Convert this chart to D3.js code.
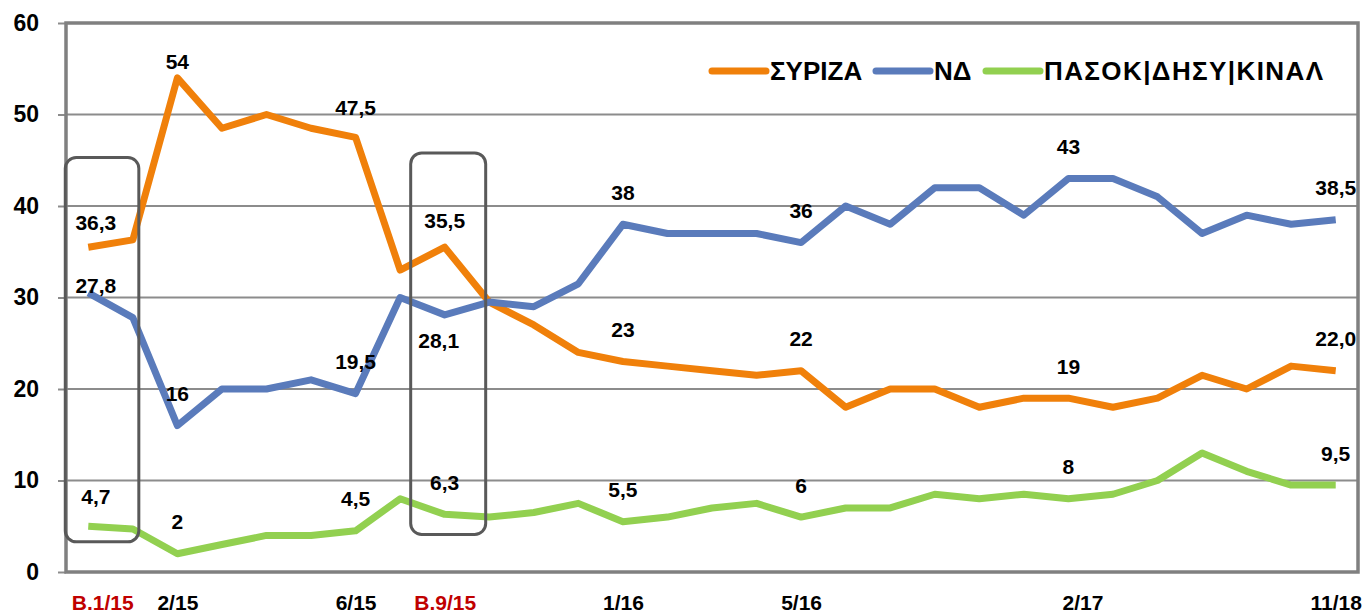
<!DOCTYPE html>
<html lang="el">
  <head>
    <meta charset="UTF-8" />
    <title>Δημοσκοπήσεις</title>
    <script src="https://d3js.org/d3.v7.min.js"></script>
    <style>
      body { margin: 0; background: #fff; }
      text { font-family: "Liberation Sans", Arial, sans-serif; font-weight: bold; }
    </style>
  </head>
  <body>
    <div id="chart"></div>
    <script>
      // Data
      const categories = ["B.1/15", "", "2/15", "", "", "", "6/15", "", "B.9/15", "", "", "",
        "1/16", "", "", "", "5/16", "", "", "", "", "", "2/17", "", "", "", "", "", "11/18"];
      const syriza = [35.5, 36.3, 54, 48.5, 50, 48.5, 47.5, 33, 35.5, 29.5, 27, 24, 23, 22.5, 22,
        21.5, 22, 18, 20, 20, 18, 19, 19, 18, 19, 21.5, 20, 22.5, 22];
      const nd = [30.5, 27.8, 16, 20, 20, 21, 19.5, 30, 28.1, 29.5, 29, 31.5, 38, 37, 37, 37, 36,
        40, 38, 42, 42, 39, 43, 43, 41, 37, 39, 38, 38.5];
      const pasok = [5, 4.7, 2, 3, 4, 4, 4.5, 8, 6.3, 6, 6.5, 7.5, 5.5, 6, 7, 7.5, 6, 7, 7, 8.5,
        8, 8.5, 8, 8.5, 10, 13, 11, 9.5, 9.5];
      const seriesNames = ["ΣΥΡΙΖΑ", "ΝΔ", "ΠΑΣΟΚ|ΔΗΣΥ|ΚΙΝΑΛ"];
      const labelIdx = [1, 2, 6, 8, 12, 16, 22, 28];
      const syrizaLabels = ["36,3", "54", "47,5", "35,5", "23", "22", "19", "22,0"];
      const ndLabels = ["27,8", "16", "19,5", "28,1", "38", "36", "43", "38,5"];
      const pasokLabels = ["4,7", "2", "4,5", "6,3", "5,5", "6", "8", "9,5"];
      const yTicks = [0, 10, 20, 30, 40, 50, 60];

      const W = 1368, H = 615;
      const margin = { top: 23, right: 10, bottom: 43, left: 66 };
      const colors = ["#F0800A", "#5A7BBB", "#92D050"];

      const svg = d3.select("#chart").append("svg")
        .attr("width", W).attr("height", H);

      const x = d3.scalePoint()
        .domain(d3.range(categories.length))
        .range([margin.left, W - margin.right])
        .padding(0.5);
      const y = d3.scaleLinear().domain([0, 60]).range([H - margin.bottom, margin.top]);

      // gridlines
      svg.append("g").selectAll("line")
        .data(yTicks.filter(d => d > 0 && d < 60))
        .join("line")
        .attr("x1", margin.left).attr("x2", W - margin.right)
        .attr("y1", d => y(d)).attr("y2", d => y(d))
        .attr("stroke", "#8c8c8c").attr("stroke-width", 2);

      // y axis
      const yAxis = svg.append("g")
        .attr("transform", "translate(" + margin.left + ",0)")
        .call(d3.axisLeft(y).tickValues(yTicks).tickSize(8).tickPadding(19));
      yAxis.select(".domain").remove();
      yAxis.selectAll("line").attr("stroke", "#8c8c8c").attr("stroke-width", 2);
      yAxis.selectAll("text").style("font-size", "23px").attr("fill", "#000");

      // x axis labels
      const xAxis = svg.append("g")
        .attr("transform", "translate(0," + y(0) + ")")
        .call(d3.axisBottom(x).tickFormat(i => categories[i]).tickSize(0).tickPadding(23));
      xAxis.select(".domain").remove();
      xAxis.selectAll("text")
        .style("font-size", "21px")
        .attr("fill", d => categories[d].startsWith("B.") ? "#C00000" : "#000")
        .attr("dx", d => d === 0 ? 14 : (d === 22 ? 14 : 0));

      // frame
      svg.append("rect")
        .attr("x", margin.left).attr("y", y(60))
        .attr("width", W - margin.right - margin.left).attr("height", y(0) - y(60))
        .attr("fill", "none").attr("stroke", "#808080").attr("stroke-width", 3.5);

      const line = d3.line().x((d, i) => x(i)).y(d => y(d));
      const allSeries = [syriza, nd, pasok];
      svg.append("g").selectAll("path")
        .data(allSeries)
        .join("path")
        .attr("d", line)
        .attr("fill", "none")
        .attr("stroke", (d, i) => colors[i])
        .attr("stroke-width", 7)
        .attr("stroke-linejoin", "round");

      // highlight boxes around election points
      const boxes = [
        { x0: x(0) - 23, x1: x(1) + 6, top: 45.3, bottom: 3.3 },
        { x0: x(8) - 34, x1: x(8) + 41, top: 45.8, bottom: 4.1 }
      ];
      svg.append("g").selectAll("rect")
        .data(boxes)
        .join("rect")
        .attr("x", d => d.x0).attr("y", d => y(d.top))
        .attr("width", d => d.x1 - d.x0).attr("height", d => y(d.bottom) - y(d.top))
        .attr("rx", 11)
        .attr("fill", "none").attr("stroke", "#595959").attr("stroke-width", 3);

      // data labels
      const labelSets = [syrizaLabels, ndLabels, pasokLabels];
      const lbl = svg.append("g");
      labelSets.forEach((texts, s) => {
        texts.forEach((t, k) => {
          const i = labelIdx[k];
          let dx = i === 1 ? -37 : 0;
          let dy = -32;
          if (s === 0 && i === 1) dy = -17;
          if (s === 0 && i === 2) dy = -16;
          if (s === 1 && i === 8) { dy = 26; dx = -6; }
          if (s === 0 && i === 6) dy = -30;
          if (s === 0 && i === 8) dy = -27;
          lbl.append("text")
            .attr("x", x(i) + dx)
            .attr("y", y(allSeries[s][i]) + dy)
            .attr("text-anchor", "middle")
            .attr("dominant-baseline", "central")
            .style("font-size", "21px")
            .text(t);
        });
      });

      // legend
      const legendX = [712, 876, 986];
      const leg = svg.append("g").selectAll("g")
        .data(seriesNames)
        .join("g")
        .attr("transform", (d, i) => "translate(" + legendX[i] + ",71)");
      leg.append("line")
        .attr("x1", 0).attr("x2", 54)
        .attr("stroke", (d, i) => colors[i])
        .attr("stroke-width", 7).attr("stroke-linecap", "round");
      leg.append("text")
        .attr("x", 58).attr("dominant-baseline", "central")
        .style("font-size", "26px")
        .each(function (d, i) {
          if (i === 2) d3.select(this).attr("textLength", 279).attr("lengthAdjust", "spacing");
        })
        .text(d => d);
    </script>
  </body>
</html>
